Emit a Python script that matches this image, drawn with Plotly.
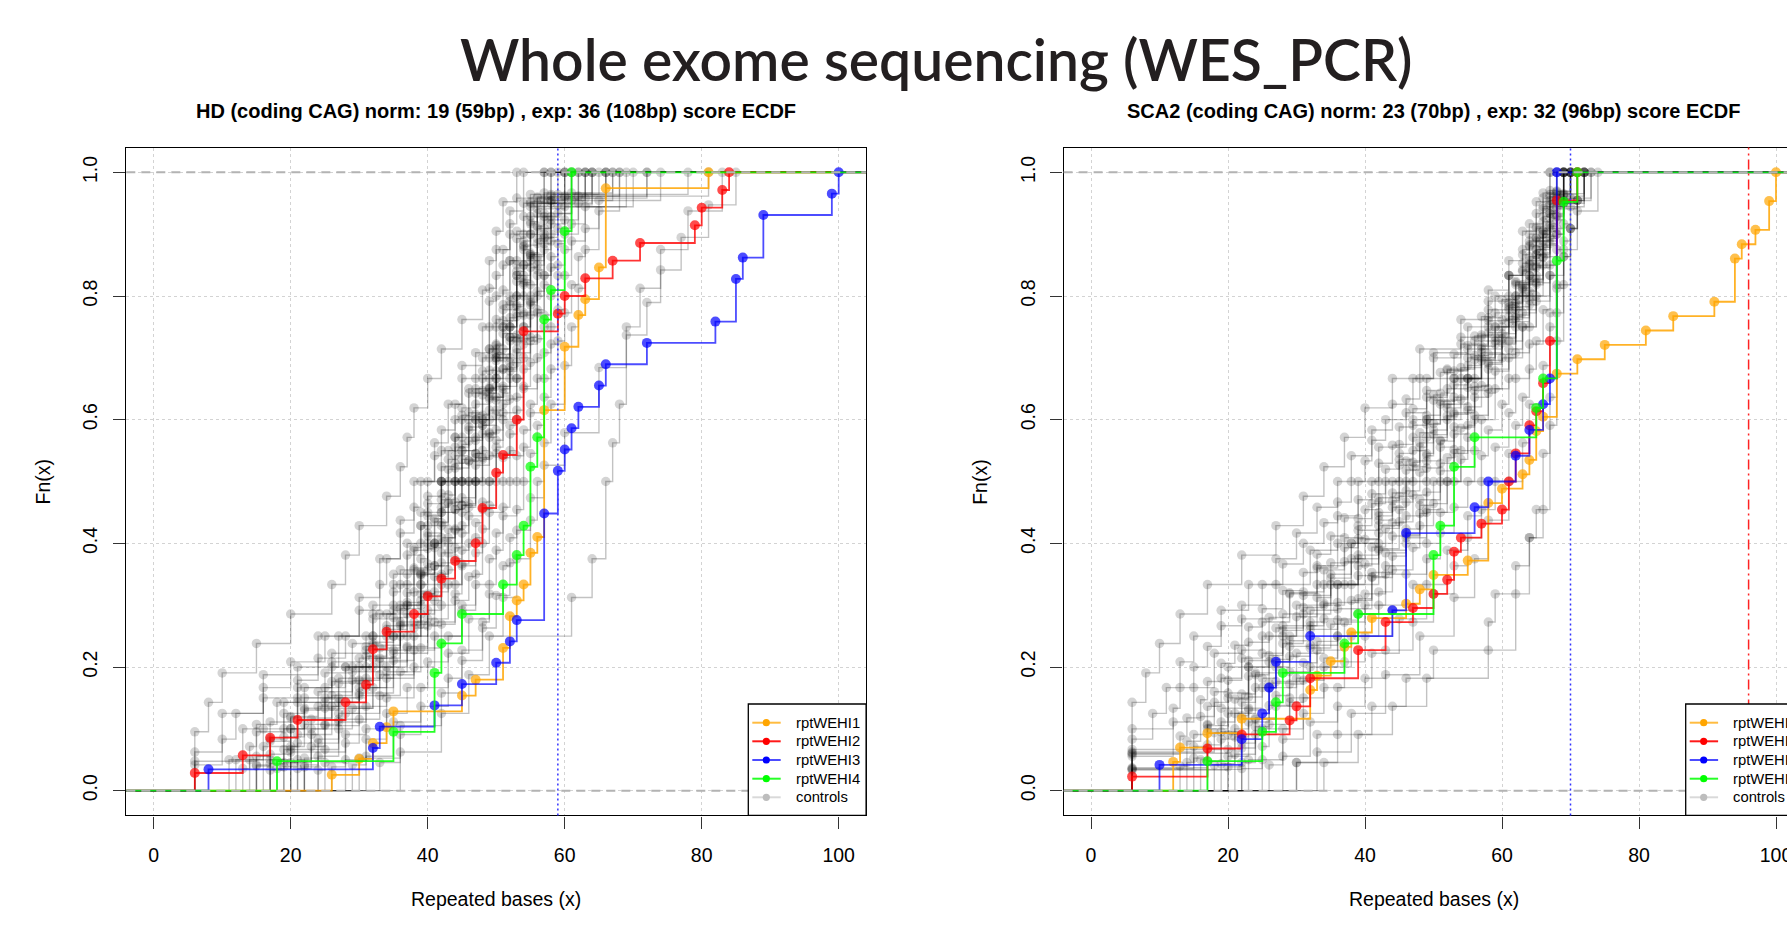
import numpy as np
import plotly.graph_objects as go

W, H = 1787, 928

# ---------------- HD panel: patient samples (x = repeated bases, k = cumulative count, n = total) ----------
HD_WEHI1_X = [26, 30, 32, 34, 35, 45, 47, 51, 52, 53, 54, 55, 56, 57, 60, 62, 63, 65, 66, 81]
HD_WEHI1_K = [1, 2, 3, 4, 5, 6, 7, 9, 11, 12, 13, 15, 16, 24, 28, 30, 31, 33, 38, 39]
HD_WEHI1_N = 39
HD_WEHI2_X = [6, 13, 17, 21, 28, 31, 32, 34, 38, 40, 42, 44, 47, 48, 50, 51, 53, 54, 59, 60, 63, 67, 71, 79, 80, 83, 84]
HD_WEHI2_K = [1, 2, 3, 4, 5, 6, 8, 9, 10, 11, 12, 13, 14, 16, 18, 19, 21, 26, 27, 28, 29, 30, 31, 32, 33, 34, 35]
HD_WEHI2_N = 35
HD_WEHI3_X = [8, 32, 33, 41, 45, 50, 52, 53, 57, 59, 60, 61, 62, 65, 66, 72, 82, 85, 86, 89, 99, 100]
HD_WEHI3_K = [1, 2, 3, 4, 5, 6, 7, 8, 13, 15, 16, 17, 18, 19, 20, 21, 22, 24, 25, 27, 28, 29]
HD_WEHI3_N = 29
HD_WEHI4_X = [18, 35, 41, 42, 45, 51, 53, 54, 55, 56, 57, 58, 60, 61]
HD_WEHI4_K = [1, 2, 4, 5, 6, 7, 8, 9, 11, 12, 16, 17, 19, 21]
HD_WEHI4_N = 21

# ---------------- HD panel: controls (raw repeat lengths per control sample) ----------
HD_CTRL_01 = [6, 6, 8, 10, 15, 20, 26, 28, 30, 34, 36, 37, 38, 40, 42, 45, 48, 49, 50, 51, 53]
HD_CTRL_02 = [6, 10, 16, 24, 30, 33, 36, 38, 41, 43, 45, 48, 49, 50, 52, 54]
HD_CTRL_03 = [6, 10, 12, 16, 20, 25, 30, 33, 34, 36, 38, 39, 41, 42, 44, 45, 47, 49, 49, 50, 51, 52, 53, 58]
HD_CTRL_04 = [11, 13, 16, 21, 27, 32, 35, 37, 39, 40, 42, 44, 46, 48, 49, 50, 51, 52, 54, 62]
HD_CTRL_05 = [13, 14, 15, 18, 21, 24, 28, 32, 35, 36, 38, 39, 40, 42, 43, 44, 45, 46, 48, 49, 50, 51, 52, 52, 53, 54, 55, 66]
HD_CTRL_06 = [15, 17, 21, 26, 32, 36, 38, 40, 42, 44, 46, 48, 50, 51, 53, 54, 55, 69]
HD_CTRL_07 = [15, 17, 19, 22, 26, 31, 35, 37, 39, 40, 42, 43, 44, 46, 47, 49, 50, 51, 52, 53, 54, 55, 56, 63]
HD_CTRL_08 = [17, 19, 22, 26, 32, 36, 39, 41, 42, 44, 45, 47, 49, 50, 52, 53, 54, 55, 56, 61]
HD_CTRL_09 = [17, 19, 20, 22, 25, 28, 31, 34, 37, 39, 40, 41, 42, 43, 45, 46, 47, 48, 49, 50, 51, 52, 53, 54, 54, 55, 56, 56, 57, 64]
HD_CTRL_10 = [19, 21, 24, 27, 31, 36, 39, 41, 42, 44, 45, 47, 48, 49, 51, 52, 53, 54, 55, 56, 58, 60]
HD_CTRL_11 = [19, 21, 23, 26, 29, 33, 36, 39, 41, 42, 43, 45, 46, 47, 48, 49, 50, 52, 53, 54, 55, 55, 56, 57, 58, 72]
HD_CTRL_12 = [21, 23, 27, 31, 35, 39, 42, 43, 45, 46, 48, 49, 51, 52, 54, 55, 56, 57, 58, 60]
HD_CTRL_13 = [21, 23, 25, 27, 30, 33, 36, 39, 41, 43, 44, 45, 46, 47, 48, 49, 50, 51, 52, 53, 54, 55, 56, 56, 57, 58, 59, 78]
HD_CTRL_14 = [22, 24, 27, 30, 33, 37, 40, 42, 44, 45, 46, 47, 49, 50, 51, 52, 53, 55, 55, 56, 57, 58, 60, 66]
HD_CTRL_15 = [24, 27, 31, 35, 40, 43, 45, 46, 48, 50, 51, 53, 54, 56, 57, 58, 60, 70]
HD_CTRL_16 = [24, 25, 27, 29, 32, 34, 37, 40, 42, 44, 45, 46, 47, 48, 49, 50, 50, 51, 52, 53, 54, 55, 56, 56, 57, 58, 58, 59, 61, 67]
HD_CTRL_17 = [25, 28, 31, 34, 38, 41, 44, 45, 47, 48, 49, 50, 52, 53, 54, 55, 56, 57, 58, 59, 61, 74]
HD_CTRL_18 = [26, 28, 30, 33, 36, 39, 42, 44, 46, 47, 48, 49, 50, 51, 52, 53, 54, 55, 56, 57, 58, 58, 59, 60, 62, 81]
HD_CTRL_19 = [28, 31, 34, 38, 41, 45, 47, 48, 49, 51, 52, 53, 54, 56, 57, 58, 59, 60, 62, 64]
HD_CTRL_20 = [29, 31, 34, 37, 40, 43, 45, 47, 49, 50, 51, 52, 53, 54, 55, 56, 57, 58, 59, 59, 60, 61, 63, 72]
HD_CTRL_21 = [31, 35, 39, 43, 46, 49, 50, 51, 53, 54, 55, 57, 58, 59, 60, 61, 63, 66]
HD_CTRL_22 = [33, 36, 39, 43, 45, 48, 49, 51, 52, 53, 54, 55, 56, 57, 58, 59, 60, 61, 62, 63, 65, 67]
HD_CTRL_23 = [36, 42, 46, 49, 51, 53, 55, 56, 57, 58, 60, 61, 62, 63, 65, 68]
HD_CTRL_24 = [20, 28, 33, 38, 61, 64, 66, 66, 67, 68, 69, 69, 71, 74, 78, 83]
HD_CTRL_25 = [30, 36, 42, 45, 48, 50, 52, 53, 55, 57, 60, 65, 65, 69, 72, 74, 77, 81, 85]
HD_CTRL_26 = [14, 16, 21, 28, 32, 35, 37, 39, 40, 42, 43, 45, 47, 49, 51, 52, 53, 54, 55, 57]
HD_CTRL_27 = [15, 17, 20, 24, 29, 32, 35, 37, 38, 40, 41, 42, 43, 45, 46, 48, 49, 50, 51, 53, 53, 54, 55, 56, 63]
HD_CTRL_28 = [17, 20, 26, 32, 36, 39, 40, 42, 44, 46, 48, 50, 52, 53, 54, 56, 60]
HD_CTRL_29 = [17, 19, 22, 27, 31, 34, 37, 39, 40, 41, 43, 44, 46, 47, 49, 50, 51, 53, 54, 55, 56, 57, 62]
HD_CTRL_30 = [12, 20, 25, 30, 34, 37, 39, 41, 42, 44, 45, 47, 49, 50, 52, 53, 54, 55, 57, 59]
HD_CTRL_31 = [18, 20, 22, 25, 29, 32, 35, 37, 38, 40, 41, 42, 43, 44, 45, 47, 48, 49, 50, 51, 52, 53, 54, 55, 56, 57, 58, 65]
HD_CTRL_32 = [20, 25, 32, 36, 39, 42, 44, 46, 48, 50, 52, 54, 55, 57, 61]
HD_CTRL_33 = [16, 21, 30, 34, 38, 40, 42, 45, 47, 50, 52, 53, 55, 58]
HD_CTRL_34 = [20, 23, 26, 31, 35, 38, 40, 41, 43, 44, 45, 47, 48, 50, 51, 53, 54, 55, 56, 57, 58, 63]
HD_CTRL_35 = [22, 25, 30, 35, 38, 40, 42, 44, 45, 47, 49, 50, 52, 53, 55, 56, 57, 59, 64]
HD_CTRL_36 = [22, 24, 27, 30, 34, 37, 39, 41, 42, 43, 44, 45, 47, 48, 49, 50, 51, 53, 54, 55, 56, 57, 57, 58, 60, 68]
HD_CTRL_37 = [6, 15, 19, 25, 29, 33, 35, 37, 39, 40, 42, 44, 45, 47, 49, 50, 51, 52, 53, 55, 57]

# ---------------- SCA2 panel: patient samples ----------
SCA2_WEHI1_X = [12, 13, 17, 22, 32, 33, 35, 37, 38, 41, 46, 48, 50, 55, 58, 60, 63, 64, 65, 66, 68, 71, 75, 81, 85, 91, 94, 95, 97, 99, 100]
SCA2_WEHI1_K = [2, 3, 4, 5, 7, 8, 9, 10, 11, 12, 13, 14, 15, 16, 20, 21, 22, 23, 25, 26, 29, 30, 31, 32, 33, 34, 37, 38, 39, 41, 43]
SCA2_WEHI1_N = 43
SCA2_WEHI2_X = [6, 17, 22, 29, 30, 32, 39, 43, 47, 50, 52, 53, 54, 57, 60, 61, 62, 64, 65, 66, 67, 68, 71]
SCA2_WEHI2_K = [1, 3, 4, 5, 6, 8, 10, 12, 13, 14, 15, 17, 18, 19, 20, 22, 24, 26, 27, 29, 32, 42, 44]
SCA2_WEHI2_N = 44
SCA2_WEHI3_X = [10, 22, 25, 26, 27, 32, 44, 46, 56, 58, 62, 64, 66, 67, 68]
SCA2_WEHI3_K = [1, 2, 3, 4, 5, 6, 7, 10, 11, 12, 13, 14, 15, 16, 24]
SCA2_WEHI3_N = 24
SCA2_WEHI4_X = [17, 25, 27, 28, 37, 39, 50, 51, 53, 56, 65, 66, 68, 69, 71]
SCA2_WEHI4_K = [1, 2, 3, 4, 5, 6, 8, 9, 11, 12, 13, 14, 18, 20, 21]
SCA2_WEHI4_N = 21

# ---------------- SCA2 panel: controls ----------
SCA2_CTRL_01 = [6, 6, 6, 8, 10, 13, 17, 22, 27, 31, 34, 37, 40, 44, 48, 54, 58, 61, 63, 65, 67]
SCA2_CTRL_02 = [6, 6, 9, 11, 13, 15, 19, 23, 27, 30, 33, 36, 38, 41, 44, 47, 50, 55, 58, 61, 63, 64, 66, 67]
SCA2_CTRL_03 = [6, 6, 6, 12, 13, 15, 17, 19, 22, 25, 28, 31, 34, 36, 38, 40, 41, 43, 46, 48, 50, 54, 57, 59, 61, 63, 64, 65, 66, 68]
SCA2_CTRL_04 = [6, 12, 15, 18, 22, 27, 32, 36, 39, 42, 46, 49, 54, 58, 61, 64, 66, 69]
SCA2_CTRL_05 = [6, 6, 13, 14, 16, 17, 19, 21, 23, 25, 28, 31, 33, 35, 37, 39, 41, 42, 44, 45, 47, 49, 51, 53, 56, 58, 60, 62, 63, 64, 65, 66, 67, 68]
SCA2_CTRL_06 = [14, 15, 17, 19, 22, 25, 29, 33, 37, 40, 42, 45, 47, 49, 52, 56, 59, 62, 64, 65, 67, 69]
SCA2_CTRL_07 = [6, 15, 17, 18, 20, 22, 25, 28, 31, 34, 37, 39, 41, 43, 45, 47, 49, 51, 53, 55, 58, 61, 62, 64, 65, 66, 67, 69]
SCA2_CTRL_08 = [16, 17, 20, 23, 26, 30, 35, 38, 42, 44, 47, 49, 52, 55, 59, 62, 64, 66, 67, 69]
SCA2_CTRL_09 = [6, 6, 18, 20, 22, 24, 26, 28, 30, 33, 35, 38, 40, 42, 44, 45, 47, 48, 50, 51, 53, 55, 57, 59, 61, 63, 64, 65, 66, 67, 68, 70]
SCA2_CTRL_10 = [18, 19, 21, 24, 26, 29, 32, 36, 39, 42, 44, 46, 49, 50, 52, 55, 57, 60, 62, 64, 65, 67, 68, 71]
SCA2_CTRL_11 = [6, 20, 21, 23, 25, 27, 29, 32, 34, 37, 40, 42, 44, 46, 47, 49, 51, 52, 54, 55, 57, 59, 61, 63, 64, 65, 66, 67, 68, 70]
SCA2_CTRL_12 = [20, 23, 26, 30, 34, 38, 42, 46, 49, 51, 53, 56, 59, 62, 65, 66, 68, 70]
SCA2_CTRL_13 = [20, 22, 24, 27, 29, 32, 35, 38, 41, 43, 46, 48, 50, 52, 53, 55, 56, 58, 60, 62, 64, 65, 67, 68, 69, 72]
SCA2_CTRL_14 = [22, 24, 27, 30, 33, 37, 40, 43, 46, 49, 51, 53, 55, 56, 58, 61, 63, 65, 66, 68, 69, 70]
SCA2_CTRL_15 = [22, 25, 26, 29, 31, 34, 36, 39, 42, 44, 47, 48, 50, 52, 54, 55, 56, 58, 59, 61, 63, 64, 65, 67, 67, 68, 69, 71]
SCA2_CTRL_16 = [25, 28, 31, 34, 38, 42, 46, 49, 51, 53, 56, 57, 59, 61, 63, 65, 67, 68, 69, 71]
SCA2_CTRL_17 = [26, 28, 31, 34, 37, 40, 44, 47, 49, 51, 53, 55, 57, 58, 60, 61, 62, 64, 65, 67, 68, 69, 70, 73]
SCA2_CTRL_18 = [28, 32, 36, 41, 45, 49, 52, 55, 57, 59, 61, 62, 64, 66, 67, 69, 70, 72]
SCA2_CTRL_19 = [30, 33, 36, 40, 43, 47, 50, 53, 55, 57, 59, 61, 62, 63, 64, 65, 67, 68, 69, 70, 71, 72]
SCA2_CTRL_20 = [33, 38, 43, 48, 53, 56, 58, 61, 63, 64, 66, 67, 68, 69, 71, 74]
SCA2_CTRL_21 = [34, 39, 44, 49, 58, 62, 62, 64, 64, 66, 67, 67, 67, 68, 68, 68, 69, 69, 70, 70, 71, 72]
SCA2_CTRL_22 = [30, 36, 41, 46, 50, 58, 59, 62, 64, 65, 66, 66, 67, 67, 68, 68, 68, 69, 69, 70, 71, 73]
SCA2_CTRL_23 = [13, 14, 16, 18, 20, 23, 26, 29, 33, 36, 39, 41, 43, 45, 47, 50, 52, 55, 58, 61, 63, 64, 66, 67, 69]
SCA2_CTRL_24 = [15, 17, 20, 23, 27, 31, 35, 39, 42, 45, 48, 50, 54, 57, 61, 63, 65, 67, 69]
SCA2_CTRL_25 = [6, 17, 19, 21, 23, 25, 28, 31, 34, 37, 39, 42, 44, 46, 48, 49, 51, 53, 56, 58, 61, 63, 64, 65, 67, 68, 69]
SCA2_CTRL_26 = [17, 19, 22, 24, 28, 31, 35, 39, 42, 45, 47, 49, 52, 54, 57, 60, 63, 65, 66, 68, 70]
SCA2_CTRL_27 = [6, 6, 20, 22, 23, 25, 27, 29, 32, 34, 36, 39, 41, 43, 45, 46, 48, 49, 50, 52, 53, 55, 56, 59, 61, 62, 63, 65, 66, 67, 68, 68, 70]
SCA2_CTRL_28 = [19, 21, 23, 26, 29, 32, 36, 39, 42, 45, 47, 49, 51, 53, 55, 57, 60, 62, 64, 66, 67, 68, 70]
SCA2_CTRL_29 = [21, 24, 27, 32, 36, 41, 44, 48, 51, 53, 56, 58, 62, 64, 66, 68, 71]
SCA2_CTRL_30 = [6, 22, 24, 26, 29, 31, 33, 36, 39, 41, 44, 46, 48, 49, 51, 53, 54, 55, 57, 58, 60, 62, 64, 65, 66, 67, 68, 69, 72]
SCA2_CTRL_31 = [23, 25, 29, 32, 36, 40, 43, 46, 49, 52, 54, 56, 58, 60, 62, 64, 66, 68, 69, 72]
SCA2_CTRL_32 = [6, 19, 23, 28, 33, 38, 42, 46, 49, 53, 57, 62, 65, 67, 69]

# ---------------- labels ----------
MAIN_TITLE = "Whole exome sequencing (WES_PCR)"
HD_TITLE = "HD (coding CAG) norm: 19 (59bp) , exp: 36 (108bp) score ECDF"
SCA2_TITLE = "SCA2 (coding CAG) norm: 23 (70bp) , exp: 32 (96bp) score ECDF"
SAMPLE_NAMES = ["rptWEHI1", "rptWEHI2", "rptWEHI3", "rptWEHI4", "controls"]
X_TICKS = [0, 20, 40, 60, 80, 100]
Y_TICKS = [0.0, 0.2, 0.4, 0.6, 0.8, 1.0]
Y_TICKTEXT = ["0.0", "0.2", "0.4", "0.6", "0.8", "1.0"]
HD_NORM_BP = 59
SCA2_NORM_BP = 70
SCA2_EXP_BP = 96

# ---------------- styling ----------
SAMPLE_COLORS = ["#FFA500", "#FF0000", "#0000FF", "#00FF00"]
SAMPLE_LINE_COLORS = ["rgba(255,165,0,0.85)", "rgba(255,0,0,0.8)", "rgba(0,0,255,0.7)", "rgba(0,255,0,0.85)"]
CTRL_COLOR = "rgba(0,0,0,0.24)"
AX_FONT = "Liberation Sans, Arial, Helvetica, sans-serif"

# pixel geometry of the two plot boxes
Y_TOP, Y_BOT = 147.6, 815.4
L_X0, L_X1 = 126.3, 866.1
R_X0 = 1063.6
PX_PER_UNIT = (L_X1 - L_X0) / 108.0
R_RANGE_END = -4 + (W - R_X0) / PX_PER_UNIT


def ecdf_from_values(vals):
    v = np.sort(np.asarray(vals, dtype=float))
    xs, counts = np.unique(v, return_counts=True)
    return xs, np.cumsum(counts) / len(v)


def step_trace(xs, ys, line_color, marker_color, lw, ms, xa, ya, name):
    X = [-60.0] + list(xs) + [300.0]
    Y = [0.0] + list(ys) + [1.0]
    sizes = [0] + [ms] * len(xs) + [0]
    return go.Scatter(
        x=X, y=Y, mode="lines+markers", name=name, showlegend=False,
        line=dict(shape="hv", color=line_color, width=lw),
        marker=dict(size=sizes, color=marker_color, line=dict(width=0)),
        xaxis=xa, yaxis=ya, hoverinfo="skip", cliponaxis=True,
    )


HD_CONTROLS = [HD_CTRL_01, HD_CTRL_02, HD_CTRL_03, HD_CTRL_04, HD_CTRL_05, HD_CTRL_06, HD_CTRL_07,
               HD_CTRL_08, HD_CTRL_09, HD_CTRL_10, HD_CTRL_11, HD_CTRL_12, HD_CTRL_13, HD_CTRL_14,
               HD_CTRL_15, HD_CTRL_16, HD_CTRL_17, HD_CTRL_18, HD_CTRL_19, HD_CTRL_20, HD_CTRL_21,
               HD_CTRL_22, HD_CTRL_23, HD_CTRL_24, HD_CTRL_25, HD_CTRL_26, HD_CTRL_27, HD_CTRL_28,
               HD_CTRL_29, HD_CTRL_30, HD_CTRL_31, HD_CTRL_32, HD_CTRL_33, HD_CTRL_34, HD_CTRL_35,
               HD_CTRL_36, HD_CTRL_37]
SCA2_CONTROLS = [SCA2_CTRL_01, SCA2_CTRL_02, SCA2_CTRL_03, SCA2_CTRL_04, SCA2_CTRL_05, SCA2_CTRL_06,
                 SCA2_CTRL_07, SCA2_CTRL_08, SCA2_CTRL_09, SCA2_CTRL_10, SCA2_CTRL_11, SCA2_CTRL_12,
                 SCA2_CTRL_13, SCA2_CTRL_14, SCA2_CTRL_15, SCA2_CTRL_16, SCA2_CTRL_17, SCA2_CTRL_18,
                 SCA2_CTRL_19, SCA2_CTRL_20, SCA2_CTRL_21, SCA2_CTRL_22, SCA2_CTRL_23, SCA2_CTRL_24,
                 SCA2_CTRL_25, SCA2_CTRL_26, SCA2_CTRL_27, SCA2_CTRL_28, SCA2_CTRL_29, SCA2_CTRL_30,
                 SCA2_CTRL_31, SCA2_CTRL_32]

fig = go.Figure()

panels = [
    ("x", "y", HD_CONTROLS,
     [(HD_WEHI1_X, HD_WEHI1_K, HD_WEHI1_N), (HD_WEHI2_X, HD_WEHI2_K, HD_WEHI2_N),
      (HD_WEHI3_X, HD_WEHI3_K, HD_WEHI3_N), (HD_WEHI4_X, HD_WEHI4_K, HD_WEHI4_N)]),
    ("x2", "y2", SCA2_CONTROLS,
     [(SCA2_WEHI1_X, SCA2_WEHI1_K, SCA2_WEHI1_N), (SCA2_WEHI2_X, SCA2_WEHI2_K, SCA2_WEHI2_N),
      (SCA2_WEHI3_X, SCA2_WEHI3_K, SCA2_WEHI3_N), (SCA2_WEHI4_X, SCA2_WEHI4_K, SCA2_WEHI4_N)]),
]

for xa, ya, ctrls, samples in panels:
    for c in ctrls:
        xs, ys = ecdf_from_values(c)
        fig.add_trace(step_trace(xs, ys, CTRL_COLOR, CTRL_COLOR, 1.4, 9.5, xa, ya, "controls"))
    for i, (sx, sk, sn) in enumerate(samples):
        ys = np.asarray(sk, dtype=float) / sn
        fig.add_trace(step_trace(sx, ys, SAMPLE_LINE_COLORS[i], SAMPLE_COLORS[i], 1.8, 10,
                                 xa, ya, SAMPLE_NAMES[i]))

axis_common = dict(
    ticks="outside", ticklen=12, tickwidth=1.3, tickcolor="#333333",
    showline=True, linecolor="black", linewidth=1.3,
    showgrid=True, gridcolor="#D3D3D3", griddash="dot", gridwidth=1,
    zeroline=False, tickfont=dict(family=AX_FONT, size=19.5, color="black"),
    ticklabeloverflow="allow",
)

yd = [1 - Y_BOT / H, 1 - Y_TOP / H]
fig.update_layout(
    width=W, height=H, paper_bgcolor="white", plot_bgcolor="white",
    margin=dict(l=0, r=0, t=0, b=0, autoexpand=False),
    showlegend=False,
    xaxis=dict(domain=[L_X0 / W, L_X1 / W], range=[-4, 104], tickvals=X_TICKS, mirror=True,
               ticklabelstandoff=10, anchor="y", **axis_common),
    yaxis=dict(domain=yd, range=[-0.04, 1.04], tickvals=Y_TICKS, ticktext=Y_TICKTEXT, tickangle=-90,
               mirror=True, ticklabelstandoff=8, anchor="x", **axis_common),
    xaxis2=dict(domain=[R_X0 / W, 1.0], range=[-4, R_RANGE_END], tickvals=X_TICKS, mirror=True,
                ticklabelstandoff=10, anchor="y2", **axis_common),
    yaxis2=dict(domain=yd, range=[-0.04, 1.04], tickvals=Y_TICKS, ticktext=Y_TICKTEXT, tickangle=-90,
                mirror=False, ticklabelstandoff=8, anchor="x2", **axis_common),
)

shapes = []
# reference lines at 0 and 1 (gray dashed), drawn above data
for xr, yr in [("x", "y"), ("x2", "y2")]:
    for yv in (0.0, 1.0):
        shapes.append(dict(type="line", xref=f"{xr} domain", yref=yr, x0=0, x1=1, y0=yv, y1=yv,
                           line=dict(color="#B3B3B3", width=2, dash="9px,6px"), layer="above"))
# normal / expanded length marker lines
shapes.append(dict(type="line", xref="x", yref="y domain", x0=HD_NORM_BP, x1=HD_NORM_BP, y0=0, y1=1,
                   line=dict(color="#3333FF", width=1.5, dash="2px,3px"), layer="above"))
shapes.append(dict(type="line", xref="x2", yref="y2 domain", x0=SCA2_NORM_BP, x1=SCA2_NORM_BP, y0=0, y1=1,
                   line=dict(color="#3333FF", width=1.5, dash="2px,3px"), layer="above"))
shapes.append(dict(type="line", xref="x2", yref="y2 domain", x0=SCA2_EXP_BP, x1=SCA2_EXP_BP, y0=0, y1=1,
                   line=dict(color="#FF2222", width=1.5, dash="2px,4px,10px,4px"), layer="above"))

annotations = []
# legends drawn R-style inside each panel (bottom-right corner)
LEG_ROWS = [722.7, 741.3, 760.0, 778.7, 797.3]
LEG_LINE_COLORS = ["rgba(255,165,0,0.75)", "rgba(255,0,0,0.9)", "rgba(0,0,255,0.7)",
                   "rgba(0,255,0,0.85)", "rgba(0,0,0,0.15)"]
LEG_DOT_COLORS = ["#FFA500", "#FF0000", "#0000FF", "#00FF00", "#BDBDBD"]
for box_left, box_right in [(748.3, L_X1), (1685.7, 1803.7)]:
    shapes.append(dict(type="rect", xref="paper", yref="paper",
                       x0=box_left / W, x1=box_right / W, y0=1 - Y_BOT / H, y1=1 - 704.0 / H,
                       line=dict(color="black", width=1.3), fillcolor="white", layer="above"))
    for j, py in enumerate(LEG_ROWS):
        shapes.append(dict(type="line", xref="paper", yref="paper",
                           x0=(box_left + 4) / W, x1=(box_left + 32.4) / W, y0=1 - py / H, y1=1 - py / H,
                           line=dict(color=LEG_LINE_COLORS[j], width=2), layer="above"))
        cx, r = box_left + 18.0, 3.6
        shapes.append(dict(type="circle", xref="paper", yref="paper",
                           x0=(cx - r) / W, x1=(cx + r) / W, y0=1 - (py + r) / H, y1=1 - (py - r) / H,
                           line=dict(width=0), fillcolor=LEG_DOT_COLORS[j], layer="above"))
        annotations.append(dict(text=SAMPLE_NAMES[j], xref="paper", yref="paper",
                                x=(box_left + 45.5) / W, y=1 - py / H, xanchor="left", yanchor="middle",
                                showarrow=False, font=dict(family=AX_FONT, size=14.8, color="black")))

# titles
annotations.append(dict(text=MAIN_TITLE, xref="paper", yref="paper", x=936 / W, y=1 - 59 / H,
                        xanchor="center", yanchor="middle", showarrow=False,
                        font=dict(family="Lato, Open Sans, sans-serif", size=57, weight=600, color="#231F20")))
annotations.append(dict(text="<b>" + HD_TITLE + "</b>", xref="paper", yref="paper",
                        x=(L_X0 + L_X1) / 2 / W, y=1 - 111 / H, xanchor="center", yanchor="middle",
                        showarrow=False, font=dict(family=AX_FONT, size=20, color="black")))
annotations.append(dict(text="<b>" + SCA2_TITLE + "</b>", xref="paper", yref="paper",
                        x=(R_X0 + R_X0 + 108 * PX_PER_UNIT) / 2 / W, y=1 - 111 / H, xanchor="center",
                        yanchor="middle", showarrow=False, font=dict(family=AX_FONT, size=20, color="black")))
# axis titles
for cxp in [(L_X0 + L_X1) / 2, (R_X0 + R_X0 + 108 * PX_PER_UNIT) / 2]:
    annotations.append(dict(text="Repeated bases (x)", xref="paper", yref="paper", x=cxp / W, y=1 - 899 / H,
                            xanchor="center", yanchor="middle", showarrow=False,
                            font=dict(family=AX_FONT, size=19.5, color="black")))
for fx in [43, 43 + (R_X0 - L_X0)]:
    annotations.append(dict(text="Fn(x)", xref="paper", yref="paper", x=fx / W, y=1 - (Y_TOP + Y_BOT) / 2 / H,
                            xanchor="center", yanchor="middle", textangle=-90, showarrow=False,
                            font=dict(family=AX_FONT, size=19.5, color="black")))

fig.update_layout(shapes=shapes, annotations=annotations)
fig.write_html("out.html")
